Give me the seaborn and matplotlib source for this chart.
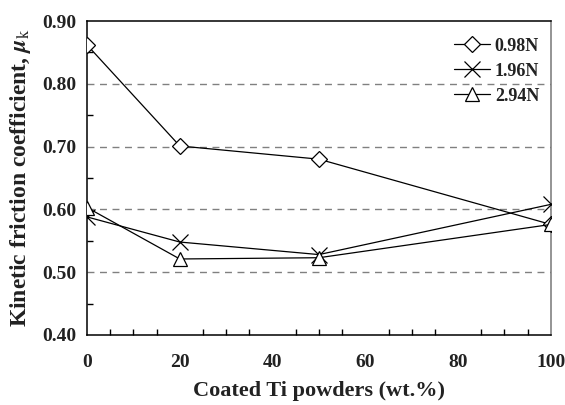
import numpy as np
import pandas as pd
import matplotlib
matplotlib.use("Agg")
import matplotlib.pyplot as plt
import seaborn as sns
from matplotlib.ticker import MultipleLocator, FormatStrFormatter

# Coated Ti powder content (wt.%)
ti_content = [0, 20, 50, 100]

# Kinetic friction coefficient for each normal load
mu_098 = [0.862, 0.701, 0.680, 0.576]
mu_196 = [0.588, 0.548, 0.528, 0.608]
mu_294 = [0.603, 0.521, 0.523, 0.576]

loads = ["0.98N", "1.96N", "2.94N"]
markers = ["D", "x", "^"]
marker_sizes = [8, 11, 10]

sns.set_theme(style="white")
plt.rcParams["font.family"] = ["Liberation Serif", "DejaVu Serif"]
plt.rcParams["mathtext.fontset"] = "stix"

df = pd.DataFrame({
    "ti": ti_content * 3,
    "mu": mu_098 + mu_196 + mu_294,
    "load": [l for l in loads for _ in ti_content],
})

fig = plt.figure(figsize=(5.65, 4.05), dpi=100)
ax = fig.add_axes([0.154, 0.173, 0.821, 0.775])

for load, m, ms in zip(loads, markers, marker_sizes):
    sub = df[df["load"] == load]
    sns.lineplot(data=sub, x="ti", y="mu", ax=ax, color="black", lw=0.9,
                 marker=m, markersize=ms, markerfacecolor="white",
                 markeredgecolor="black", markeredgewidth=0.9,
                 label=load, zorder=3)

ax.set_xlim(0, 100)
ax.set_ylim(0.40, 0.90)
ax.xaxis.set_major_locator(MultipleLocator(20))
ax.xaxis.set_minor_locator(MultipleLocator(5))
ax.yaxis.set_major_locator(MultipleLocator(0.10))
ax.yaxis.set_minor_locator(MultipleLocator(0.05))
ax.yaxis.set_major_formatter(FormatStrFormatter("%.2f"))

for yv in [0.5, 0.6, 0.7, 0.8]:
    ax.axhline(yv, color="#808080", lw=1.0, ls=(0, (5, 4)), zorder=1)

ax.tick_params(axis="x", which="major", direction="inout", length=8, width=1,
               color="black", pad=10)
ax.tick_params(axis="x", which="minor", direction="in", length=4, width=1,
               color="black", bottom=True)
ax.tick_params(axis="y", which="major", direction="out", length=5, width=1,
               color="black", pad=3)
ax.tick_params(axis="y", which="minor", direction="in", length=4, width=1,
               color="black", left=True)
for lab in ax.get_xticklabels() + ax.get_yticklabels():
    lab.set_fontweight("bold")
    lab.set_fontsize(14)
    lab.set_color("#222222")

for side in ["left", "bottom", "top"]:
    ax.spines[side].set_color("black")
    ax.spines[side].set_linewidth(1.1)
ax.spines["right"].set_color("#777777")
ax.spines["right"].set_linewidth(1.1)

ax.set_xlabel("Coated Ti powders (wt.%)", fontsize=16, fontweight="bold",
              labelpad=7, color="#222222")
ax.set_ylabel(r"Kinetic friction coefficient, $\boldsymbol{\mu}_{\mathrm{k}}$",
              fontsize=17, fontweight="bold", labelpad=6, color="#222222")

leg = ax.legend(loc="upper right", frameon=False, fontsize=13,
                handlelength=2.0, handletextpad=0.25, labelspacing=0.45,
                borderaxespad=0.25, bbox_to_anchor=(1.0, 0.985))
for t in leg.get_texts():
    t.set_fontweight("bold")
    t.set_color("#222222")

fig.savefig("out.png", dpi=100)
